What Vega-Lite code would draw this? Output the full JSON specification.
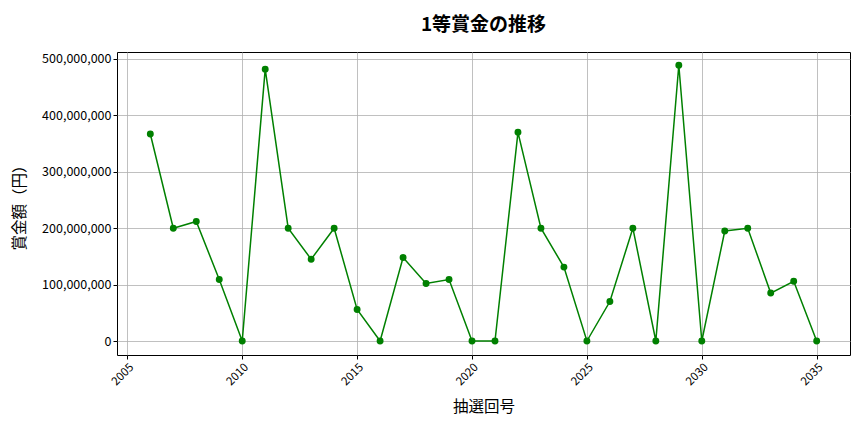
{
  "$schema": "https://vega.github.io/schema/vega-lite/v6.json",
  "width": 733,
  "height": 303,
  "autosize": {"type": "none"},
  "padding": {"left": 117, "top": 52, "right": 14, "bottom": 77},
  "background": "white",
  "title": {
    "text": "1等賞金の推移",
    "font": "Noto Sans CJK JP",
    "fontSize": 19,
    "fontWeight": "bold",
    "color": "black",
    "offset": 17
  },
  "config": {
    "font": "Noto Sans CJK JP",
    "view": {"stroke": "black", "strokeWidth": 1},
    "axis": {
      "gridColor": "#b0b0b0",
      "gridWidth": 0.8,
      "domain": false,
      "tickColor": "black",
      "tickSize": 4,
      "labelColor": "black",
      "labelFontSize": 12.5,
      "labelFont": "Noto Sans CJK JP",
      "titleFont": "Noto Sans CJK JP",
      "titleFontSize": 15.5,
      "titleFontWeight": "normal",
      "titleColor": "black"
    }
  },
  "data": {
    "values": [
      {"回号": 2006, "賞金額": 367000000},
      {"回号": 2007, "賞金額": 200000000},
      {"回号": 2008, "賞金額": 212000000},
      {"回号": 2009, "賞金額": 109000000},
      {"回号": 2010, "賞金額": 0},
      {"回号": 2011, "賞金額": 482000000},
      {"回号": 2012, "賞金額": 200000000},
      {"回号": 2013, "賞金額": 145000000},
      {"回号": 2014, "賞金額": 200000000},
      {"回号": 2015, "賞金額": 56000000},
      {"回号": 2016, "賞金額": 0},
      {"回号": 2017, "賞金額": 148000000},
      {"回号": 2018, "賞金額": 102000000},
      {"回号": 2019, "賞金額": 109000000},
      {"回号": 2020, "賞金額": 0},
      {"回号": 2021, "賞金額": 0},
      {"回号": 2022, "賞金額": 370000000},
      {"回号": 2023, "賞金額": 200000000},
      {"回号": 2024, "賞金額": 131000000},
      {"回号": 2025, "賞金額": 0},
      {"回号": 2026, "賞金額": 70000000},
      {"回号": 2027, "賞金額": 200000000},
      {"回号": 2028, "賞金額": 0},
      {"回号": 2029, "賞金額": 489000000},
      {"回号": 2030, "賞金額": 0},
      {"回号": 2031, "賞金額": 195000000},
      {"回号": 2032, "賞金額": 200000000},
      {"回号": 2033, "賞金額": 85000000},
      {"回号": 2034, "賞金額": 106000000},
      {"回号": 2035, "賞金額": 0}
    ]
  },
  "mark": {
    "type": "line",
    "color": "green",
    "strokeWidth": 1.5,
    "point": {"filled": true, "color": "green", "size": 48, "opacity": 1}
  },
  "encoding": {
    "x": {
      "field": "回号",
      "type": "quantitative",
      "title": "抽選回号",
      "scale": {"domain": [2004.55, 2036.45], "nice": false, "zero": false},
      "axis": {
        "values": [2005, 2010, 2015, 2020, 2025, 2030, 2035],
        "format": "d",
        "labelAngle": -45,
        "labelAlign": "right",
        "labelBaseline": "top",
        "labelFontSize": 11.5,
        "titlePadding": 12
      }
    },
    "y": {
      "field": "賞金額",
      "type": "quantitative",
      "title": "賞金額（円）",
      "scale": {"domain": [-24800000, 512400000], "nice": false, "zero": false},
      "axis": {
        "values": [0, 100000000, 200000000, 300000000, 400000000, 500000000],
        "format": ",d",
        "titlePadding": 14
      }
    }
  }
}
